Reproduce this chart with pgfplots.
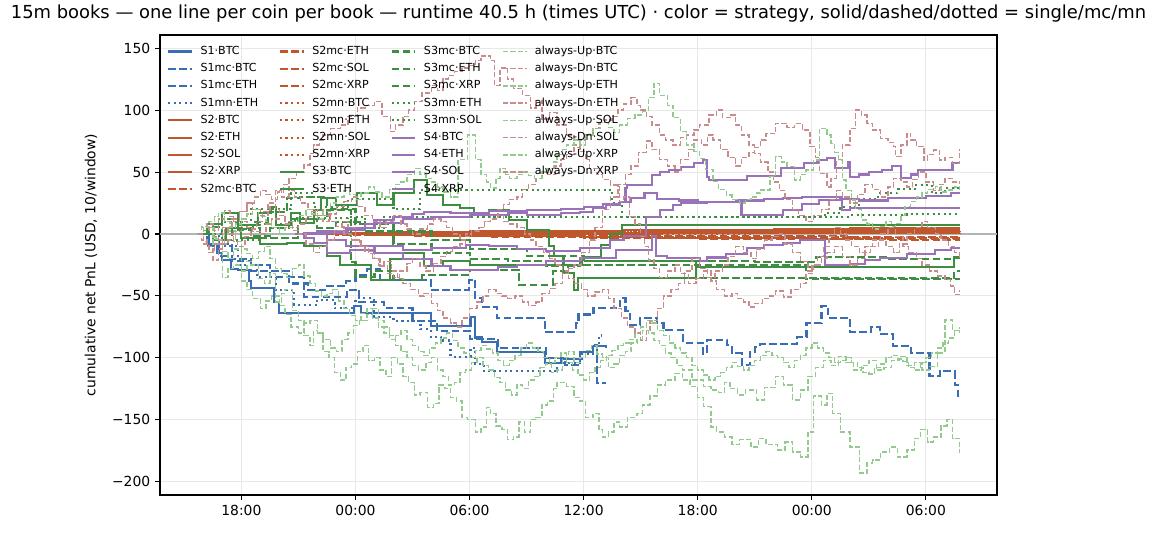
\documentclass[border=0pt]{standalone}
\usepackage{fontspec}
\setmainfont{DejaVu Sans}
\usepackage{pgfplots}
\pgfplotsset{compat=1.18}
\definecolor{cS1}{HTML}{3A6EB4}
\definecolor{cS2}{HTML}{C0562C}
\definecolor{cS3}{HTML}{3E8E41}
\definecolor{cS4}{HTML}{9A72BA}
\definecolor{cUp}{HTML}{93CB8F}
\definecolor{cDn}{HTML}{C98C8C}
\definecolor{gridc}{HTML}{E8E8E8}
\definecolor{zeroc}{HTML}{B4B4B4}
\tikzset{
  s1/.style={color=cS1, line width=1.5pt},
  s2/.style={color=cS2, line width=1.5pt},
  s3/.style={color=cS3, line width=1.5pt},
  s4/.style={color=cS4, line width=1.5pt},
  dsh/.style={dash pattern=on 5.55pt off 2.4pt},
  dtt/.style={dash pattern=on 1.5pt off 2.475pt},
  aup/.style={color=cUp, line width=1pt, dash pattern=on 3.7pt off 1.6pt},
  adn/.style={color=cDn, line width=1pt, dash pattern=on 3.7pt off 1.6pt},
}
\begin{document}
\begin{tikzpicture}
\useasboundingbox (-115.2pt,-28.08pt) rectangle (716.4pt,356.4pt);
\begin{axis}[
  at={(0,0)}, anchor=south west,
  scale only axis, width=602.64pt, height=331.2pt,
  xmin=13.72, xmax=57.74, ymin=-210.8, ymax=160.7,
  xtick={18,24,30,36,42,48,54},
  xticklabels={18:00,00:00,06:00,12:00,18:00,00:00,06:00},
  ytick={-200,-150,-100,-50,0,50,100,150},
  yticklabels={−200,−150,−100,−50,0,50,100,150},
  tick align=outside, major tick length=3.5pt,
  tick style={black, line width=0.8pt},
  xtick pos=left, ytick pos=left,
  axis line style={line width=0.8pt},
  grid=major, grid style={color=gridc, line width=0.8pt},
  tick label style={font=\fontsize{10}{12}\selectfont},
  title={15m books — one line per coin per book — runtime 40.5 h (times UTC) · color = strategy, solid/dashed/dotted = single/mc/mn},
  title style={at={(0.5,1)}, anchor=base, yshift=6pt, font=\fontsize{12.9}{15}\selectfont},
  ylabel={cumulative net PnL (USD, 10/window)},
  ylabel style={at={(axis description cs:-0.0825,0.5)}, anchor=center, font=\fontsize{10}{12}\selectfont},
  every axis plot/.append style={const plot mark left, mark=none},
  legend image code/.code={\draw[#1] (0pt,0pt) -- (17pt,0pt);},
  legend columns=4, legend cell align=left,
  legend style={draw=none, fill=none, at={(0,1)}, anchor=north west, xshift=5pt, yshift=-7.5pt,
    inner sep=0pt, row sep=4pt, font=\fontsize{8}{9.6}\selectfont,
    nodes={inner xsep=2.5pt, inner ysep=0.5pt, text height=5.8pt, text depth=1.6pt},
    /tikz/every odd column/.append style={column sep=3pt},
    /tikz/every even column/.append style={column sep=12.4pt}},
]
% zero line
\addplot[forget plot, color=zeroc, line width=0.8pt] coordinates {(13.72,0) (57.74,0)};

% ---------- S1 ----------
\addplot[forget plot, s1] coordinates {(15.7,0) (16.3,-8) (16.7,-15) (17.0,-21) (17.45,-28) (17.8,-29) (18.41,-38) (18.5,-44) (19.72,-54.7) (19.99,-64) (23.92,-58) (24.3,-64) (27.95,-74) (30.05,-66.7) (30.3,-83.6) (30.66,-87.5) (31.45,-95) (33.98,-104.5) (34.8,-101) (35.8,-95) (36.5,-90.5) (37.2,-92)};
\addplot[forget plot, s1, dsh] coordinates {(15.7,0) (16.5,-8) (17.5,-20) (18.5,-30) (19.5,-35) (20.5,-40) (21.5,-45) (22.5,-42) (23.5,-38) (24.0,-33) (24.6,-28) (25.3,-37) (27.95,-45.2) (29.96,-37) (30.3,-52) (30.66,-58.7) (31.45,-68) (33.98,-79) (35.6,-72) (35.73,-65) (36.52,-59.5) (37.92,-52) (38.2,-62) (38.45,-73.5) (38.97,-68) (39.85,-72) (40.2,-77.5) (41.24,-88) (42.3,-97) (42.47,-85.6) (43.52,-90) (43.78,-96.4) (44.31,-105.8) (44.75,-95) (45.0,-91) (45.27,-89) (47.2,-83) (47.72,-72) (48.51,-58) (48.86,-67.6) (50.0,-79) (51.13,-75) (51.57,-80.8) (52.27,-90.5) (53.23,-96.4) (54.19,-115) (54.72,-111) (55.51,-122) (55.7,-131) (55.77,-131)};
\addplot[forget plot, s1, dsh] coordinates {(15.7,0) (16.2,-10) (16.8,-18) (17.5,-22) (18.5,-25) (19.5,-30) (20.5,-35) (21.3,-50.6) (23.57,-45) (24.2,-55) (25.5,-60) (27.0,-70) (28.3,-78) (30.0,-85) (31.5,-92) (34.0,-100) (35.0,-106) (35.8,-95) (36.5,-90) (36.7,-120.6) (37.2,-120.6)};
\addplot[forget plot, s1, dtt] coordinates {(15.7,0) (16.8,-10) (17.8,-25) (18.8,-35) (19.8,-45) (20.77,-57) (22.0,-53) (22.9,-60) (24.0,-52) (24.97,-67) (26.0,-70) (27.42,-77) (27.95,-83) (28.5,-86) (29.0,-99) (30.05,-92) (30.3,-105) (30.75,-111) (34.6,-104.5) (35.9,-97) (36.5,-90) (36.8,-82) (36.96,-82)};

% ---------- S2 ----------
\addplot[forget plot, s2] coordinates {(21.0,0) (23,0.5) (25,1) (28,1.5) (30,2) (34,2.5) (38,3) (42,3.5) (46,4) (50,4.5) (53,5) (55.77,5)};
\addplot[forget plot, s2] coordinates {(22,0) (25,-0.5) (28,-1) (32,-0.5) (35,0) (40,1) (45,1.5) (50,2) (53,2.5) (55.77,2.5)};
\addplot[forget plot, s2] coordinates {(21.5,0) (24,1) (26,1.5) (30,1.2) (34,1) (39,1.5) (44,2) (49,3) (52,3.5) (55.77,3.5)};
\addplot[forget plot, s2] coordinates {(23,0) (27,-0.3) (30,-0.5) (35,0) (40,0.5) (47,0.8) (55.77,1)};
\addplot[forget plot, s2, dsh] coordinates {(21,0) (23,-0.5) (25,-1) (28,-1.5) (32,-2) (36,-2.5) (40,-3) (44,-3.5) (48,-4) (52,-4.5) (54,-5) (55.77,-5)};
\addplot[forget plot, s2, dsh] coordinates {(22,0) (24.5,-1) (27,-2) (31,-2.8) (36,-3.5) (42,-3.8) (48,-4) (55.77,-4)};
\addplot[forget plot, s2, dsh] coordinates {(22.5,0) (25,-0.8) (28,-1.5) (33,-2) (38,-2.5) (44,-2.8) (50,-3) (53,-3.5) (55.77,-3.5)};
\addplot[forget plot, s2, dsh] coordinates {(23.5,0) (27,-0.5) (30,-1) (37,-1.5) (45,-2) (50,-2.3) (55.77,-2.5)};
\addplot[forget plot, s2, dtt] coordinates {(21,0) (23.5,0.5) (26,1) (30,1.5) (34,2) (39,2.5) (44,3) (50,3.5) (53,4) (55.77,4)};
\addplot[forget plot, s2, dtt] coordinates {(22,0) (26,1) (30,1.5) (35,2) (40,2.5) (48,3) (55.77,3)};
\addplot[forget plot, s2, dtt] coordinates {(22.5,0) (28,0.5) (34,1) (40,1.5) (47,1.8) (55.77,2)};
\addplot[forget plot, s2, dtt] coordinates {(23,0) (30,-0.5) (38,0) (45,0.5) (50,0.8) (55.77,1)};

% ---------- S3 ----------
\addplot[forget plot, s3] coordinates {(15.7,0) (16.2,8) (17.0,16.7) (17.8,7.3) (18.85,16.7) (19.55,22) (19.8,7.3) (20.6,16.7) (21.1,8.6) (21.8,19.4) (22.2,28.8) (23.0,23.4) (24.1,32.9) (25.15,23.4) (26.0,32.9) (27.07,43.6) (27.77,31.5) (28.6,23.4) (29.5,20.7) (30.22,15.3) (31.0,19.4) (32.06,11.3) (33.0,3.2) (34.16,-10) (34.42,-18) (34.94,-25) (35.9,-19) (36.9,-9) (37.4,0) (38.0,7.5) (55.77,7.5)};
\addplot[forget plot, s3] coordinates {(15.7,0) (16.5,-5) (17.2,5) (18.0,-3) (19.0,-8) (20.4,-7.5) (21.3,-10) (22.5,-18) (23.2,-25) (24.8,-37) (25.8,-20) (26.5,-15) (27.6,-26) (28.6,-22) (30.0,-25) (34.9,-31.7) (35.5,-45) (35.7,-35.8) (41.9,-26.4) (55.5,-19.6) (55.77,-19.6)};
\addplot[forget plot, s3, dsh] coordinates {(15.7,0) (16.3,6) (17.0,12) (17.8,4) (18.6,10) (19.4,18) (20.4,28.8) (21.1,30) (22.5,19.4) (23.75,-23) (24.0,-34.5) (25.0,-30) (26.0,-37) (27.5,-33) (30.0,-29) (32.6,-41) (34.4,-30) (35.2,-26) (35.8,-22) (41.9,-35.8) (55.5,-30) (55.77,-30)};
\addplot[forget plot, s3, dsh] coordinates {(15.7,0) (16.5,-5) (17.5,3) (18.5,-2) (19.5,5) (20.5,12) (22,5) (23,10) (24.5,2) (26,-8) (28,-15) (30,-20) (32,-22) (34,-26) (34.8,-25) (47.7,-36.6) (55.77,-36.6)};
\addplot[forget plot, s3, dsh] coordinates {(15.7,0) (17,5) (19,-3) (21,12) (22.5,20) (24,8) (26,2) (28,-5) (30,-12) (33,-18) (36,-22) (45,-22.4) (48.2,-18.3) (52,-20) (55.5,-18.5) (55.77,-18.5)};
\addplot[forget plot, s3, dtt] coordinates {(15.7,0) (17,10) (18.5,20) (20.6,33) (21.8,22) (23.6,28) (26,20) (27.4,35.5) (37.5,25) (38.0,14) (48.7,17) (49.5,22) (50.5,28) (51.5,33) (52.5,36) (53.5,39.6) (54.3,33) (55.0,37) (55.77,37)};
\addplot[forget plot, s3, dtt] coordinates {(15.7,0) (17,-5) (19,8) (20.8,13) (23.6,14) (24.5,5) (25.5,14) (50,15) (53,16) (55.77,16)};

% ---------- S4 ----------
\addplot[forget plot, s4] coordinates {(20.8,0) (21.3,0.5) (23.6,3) (24.5,8) (25,11) (26,14) (27,16) (27.6,18) (29,17) (31,18.5) (33,19.4) (34.8,20) (36,22) (37,24) (37.9,26) (38.2,37) (38.3,39.6) (39.6,47.7) (40,50.3) (40.5,52) (41.1,54.4) (41.8,57) (42.3,59.8) (42.5,46.3) (42.6,43.6) (44.6,47) (46.4,53) (47.6,57) (48.3,59.8) (48.8,61) (49.2,53) (49.9,58) (50.0,46.3) (50.5,48) (51,50) (51.7,52) (52.2,55) (52.7,45) (53.2,48) (53.6,52) (55.4,57) (55.77,57)};
\addplot[forget plot, s4] coordinates {(21.0,0) (22,2) (23.5,5) (25,9) (26.5,12) (28,14) (30,15) (32,16.7) (33,15.3) (34.8,16.7) (35.8,18) (36.5,20.7) (37.2,23.4) (37.9,26) (38.5,29) (39.2,32.9) (39.85,28) (41,27) (42,26) (44,27) (45.5,28) (46.5,29) (47.5,30) (49.6,19.4) (50,20.7) (55.77,20.7)};
\addplot[forget plot, s4] coordinates {(20.8,0) (21.3,-3) (21.8,-7.5) (22.5,-15.6) (23.7,-13) (25,-10) (26.5,-13) (28,-11) (29.8,-9) (31,-10) (32.5,-12) (34,-14) (35.8,-11.6) (37.4,-4.8) (38.1,-2) (39.3,14) (40.0,19.4) (40.7,23.4) (41.1,24.8) (42.5,26) (44.3,15.3) (46.5,19.4) (47.5,24) (48.4,27.5) (49.5,28) (50.5,27) (52,29) (54,31) (55.3,33) (55.77,33)};
\addplot[forget plot, s4] coordinates {(21.5,0) (22.5,-5) (23.5,-10) (25,-15) (26.5,-20) (28,-26) (29,-29) (31.5,-27) (32.5,-25) (34,-22) (35.8,-19.6) (37.7,-13) (39.6,-2) (39.8,-18) (40.4,-19.6) (42.1,-22) (42.5,-19) (43.5,-16) (44.6,-11.6) (45.5,-9) (46.5,-7) (47.4,-5) (48.7,-25) (50,-24) (50.8,-21) (51.6,-19.6) (53,-16) (54.5,-13) (55.3,-11.6) (55.77,-11.6)};

% ---------- always-Up / always-Dn ----------
% Up BTC
\addplot[forget plot, aup] coordinates {(15.7,0) (16.0,-6) (16.2,-10) (16.5,-3) (16.7,-5) (17.0,-14) (17.3,-20) (17.6,-12) (18.0,-30) (18.3,-22) (18.5,-25) (18.9,-36) (19.2,-40) (19.5,-32) (19.8,-55) (20.1,-48) (20.3,-45) (20.7,-62) (21.0,-70) (21.3,-82) (21.6,-90) (21.8,-78) (22.0,-80) (22.3,-95) (22.6,-100) (22.9,-112) (23.2,-118) (23.5,-108) (23.8,-105) (24.1,-95) (24.4,-90) (24.7,-102) (25.0,-100) (25.3,-110) (25.6,-115) (25.9,-100) (26.2,-105) (26.5,-115) (26.8,-120) (27.1,-130) (27.4,-128) (27.8,-140) (28.1,-137) (28.4,-122) (28.7,-125) (29.0,-132) (29.3,-135) (29.6,-148) (29.9,-150) (30.3,-160) (30.6,-156) (30.9,-140) (31.1,-145) (31.4,-155) (31.7,-158) (32.0,-166) (32.3,-164) (32.6,-152) (32.9,-160) (33.2,-150) (33.5,-148) (33.8,-138) (34.1,-135) (34.4,-125) (34.6,-120) (35.1,-123) (35.5,-132) (35.8,-135) (36.1,-148) (36.5,-145) (36.8,-158) (37.0,-164) (37.3,-160) (37.6,-152) (37.9,-156) (38.3,-148) (38.8,-145) (39.1,-138) (39.5,-131) (39.9,-122) (40.3,-118) (40.8,-112.5) (41.2,-118) (41.6,-123) (42.0,-132) (42.3,-139.5) (42.7,-156) (43.0,-160) (43.4,-164) (43.8,-170) (44.2,-166) (44.8,-172) (45.2,-165) (45.6,-170) (46.2,-174.5) (46.6,-168) (47.0,-176) (47.4,-180) (47.8,-160) (48.1,-131) (48.5,-138) (48.8,-128.7) (49.1,-145) (49.5,-160) (50.0,-172) (50.5,-193) (50.9,-185) (51.2,-182.6) (51.6,-176) (52.1,-172) (52.5,-180) (53.0,-174.5) (53.4,-165) (53.7,-158) (54.1,-168) (54.4,-164) (54.8,-155) (55.1,-150) (55.4,-165) (55.77,-177)};
% Dn BTC
\addplot[forget plot, adn] coordinates {(15.7,0) (15.9,5) (16.2,8) (16.5,3) (16.8,12) (17.1,19) (17.4,14) (17.6,10) (17.9,18) (18.3,25) (18.6,20) (19.0,15) (19.4,25) (19.8,35) (20.1,30) (20.5,45) (20.9,50) (21.3,55.7) (21.6,65) (21.8,72) (22.1,76) (22.3,80) (22.7,85) (23.2,88) (23.6,95) (24.1,101.8) (24.5,104) (25.0,107) (25.4,95) (25.85,82.6) (26.1,88) (26.5,95) (26.8,100) (27.1,107) (27.5,114) (28.0,120) (28.3,116) (28.6,125) (28.9,128) (29.2,131) (29.6,134) (30.0,136) (30.3,140) (30.6,143.8) (31.1,140) (31.3,120) (31.6,134) (32.0,125) (32.3,117.6) (32.8,112) (33.2,101.6) (33.5,108) (33.8,93) (34.2,98) (34.6,88) (35.1,80) (35.5,72) (35.8,66.5) (36.1,60) (36.3,53) (36.7,48) (37.0,44) (37.4,39.6) (37.9,26) (38.1,30) (38.4,14) (38.7,8) (39.0,-2) (39.2,-10) (39.4,-21) (39.7,-28) (40.0,-35) (40.4,-30) (40.8,-25) (41.1,-32) (41.5,-40) (41.9,-36) (42.3,-30) (42.7,-38) (43.0,-45) (43.4,-50) (43.8,-48) (44.1,-52) (44.4,-55) (44.7,-59) (45.0,-56) (45.4,-52) (45.8,-50) (46.1,-46) (46.5,-51) (46.9,-45) (47.4,-40) (47.7,-32) (48.0,-25) (48.3,-18) (48.6,-10) (48.9,-2) (49.2,5) (49.5,0) (49.8,-5) (50.1,-10) (50.5,-15) (50.8,-10) (51.2,-5) (51.6,0) (52.0,5) (52.4,-2) (52.8,-10) (53.1,-15) (53.5,-20) (53.8,-25) (54.2,-30) (54.6,-34) (55.0,-37) (55.3,-42) (55.5,-49) (55.77,-45)};
% Up ETH
\addplot[forget plot, aup] coordinates {(15.7,0) (16.0,-8) (16.3,-15) (16.6,-8) (17.0,-35) (17.3,-28) (17.6,-25) (18.0,-38) (18.3,-45) (18.6,-52) (19.0,-60) (19.3,-54) (19.6,-50) (20.0,-58) (20.3,-65) (20.6,-75) (21.0,-80) (21.3,-72) (21.6,-70) (22.0,-80) (22.3,-85) (22.7,-92) (23.0,-95) (23.3,-85) (23.6,-80) (23.9,-74) (24.2,-70) (24.6,-65) (24.9,-60) (25.2,-70) (25.5,-75) (25.8,-82) (26.1,-90) (26.4,-95) (26.7,-100) (27.0,-106) (27.3,-110) (27.7,-104) (28.0,-100) (28.3,-110) (28.6,-115) (28.9,-122) (29.2,-120) (29.5,-112) (29.8,-110) (30.1,-104) (30.4,-100) (30.7,-106) (31.0,-110) (31.3,-116) (31.6,-120) (31.9,-126) (32.2,-130) (32.5,-122) (32.8,-125) (33.1,-118) (33.4,-115) (33.7,-108) (34.0,-105) (34.3,-112) (34.6,-110) (34.9,-100) (35.2,-95) (35.5,-104) (35.8,-100) (36.1,-94) (36.4,-90) (36.7,-97) (37.0,-100) (37.3,-108) (37.6,-105) (37.9,-98) (38.2,-95) (38.5,-88) (38.8,-85) (39.1,-78) (39.4,-80) (39.7,-86) (40.0,-90) (40.3,-96) (40.6,-100) (40.9,-106) (41.2,-110) (41.7,-118) (42.3,-123) (42.7,-126) (43.1,-128) (43.4,-120) (43.7,-125) (44.1,-130) (44.5,-126) (45.1,-134) (45.5,-124) (46.1,-115) (46.5,-122) (47.0,-134) (47.4,-126) (47.8,-115) (48.2,-108) (48.6,-102) (49.0,-106) (49.4,-99) (49.8,-104) (50.2,-110) (50.6,-106) (51.0,-102) (51.4,-110) (51.8,-108) (52.2,-102) (52.6,-99) (53.0,-106) (53.4,-104) (53.8,-110) (54.2,-107) (54.6,-96) (55.0,-69.5) (55.4,-78) (55.77,-75)};
% Dn ETH
\addplot[forget plot, adn] coordinates {(15.7,0) (15.9,-5) (16.2,-10) (16.5,-21) (16.8,-12) (17.0,-8) (17.3,-5) (17.6,2) (18.0,10) (18.3,5) (18.6,2) (19.0,0) (19.3,8) (19.6,12) (20.0,15) (20.3,10) (20.7,5) (21.0,8) (21.4,14) (21.7,18) (22.0,20) (22.3,15) (22.7,10) (23.0,6) (23.4,0) (23.8,-5) (24.2,-10) (24.5,-14) (24.9,-20) (25.2,-25) (25.5,-22) (25.9,-30) (26.2,-36) (26.5,-40) (26.9,-45) (27.3,-50) (27.6,-48) (28.0,-56) (28.3,-62) (28.6,-68) (29.0,-72) (29.3,-75) (29.6,-68) (30.0,-60) (30.4,-55) (30.7,-50) (31.0,-45) (31.4,-48) (31.7,-50) (32.0,-52) (32.4,-50) (32.8,-55) (33.1,-58) (33.5,-55) (33.8,-48) (34.2,-44) (34.5,-40) (34.9,-32) (35.2,-28) (35.5,-25) (35.9,-15) (36.3,-5) (36.6,5) (37.0,20) (37.4,30) (37.8,40) (38.2,48) (38.5,55) (38.9,66) (39.3,75) (39.6,68) (40.0,60) (40.4,55) (40.8,50) (41.1,60) (41.5,68) (41.8,76) (42.2,72) (42.5,80) (42.8,76) (43.2,68) (43.6,62) (44.0,55) (44.3,62) (44.7,66) (45.0,70) (45.3,76) (45.6,81) (46.1,89.4) (46.7,86) (47.1,89) (47.5,84) (47.9,70.5) (48.2,62) (48.4,49) (48.8,38) (49.0,45) (49.3,60) (49.6,72) (50.0,85) (50.3,100) (50.6,96) (50.9,89.4) (51.2,84) (51.6,77) (52.0,74) (52.3,70.5) (52.4,62.4) (52.7,72) (53.0,81.3) (53.2,76) (53.5,70.5) (53.9,59.8) (54.1,64) (54.4,67.9) (54.7,59.8) (55.0,62) (55.4,57) (55.77,69)};
% Up SOL
\addplot[forget plot, aup] coordinates {(15.7,0) (15.9,6) (16.2,5) (16.5,-4) (16.8,-8) (17.1,2) (17.4,3) (17.7,-6) (18.0,-12) (18.3,-16) (18.6,-20) (18.9,-14) (19.2,-10) (19.5,-20) (19.8,-28) (20.1,-32) (20.4,-35) (20.7,-28) (21.0,-25) (21.3,-34) (21.6,-40) (21.9,-46) (22.2,-50) (22.5,-48) (22.8,-45) (23.1,-54) (23.4,-60) (23.7,-66) (24.0,-70) (24.3,-64) (24.6,-60) (24.9,-68) (25.2,-75) (25.5,-80) (25.8,-85) (26.1,-82) (26.4,-78) (26.7,-85) (27.0,-90) (27.3,-95) (27.6,-98) (27.9,-92) (28.2,-88) (28.5,-84) (28.8,-80) (29.1,-86) (29.4,-92) (29.7,-96) (30.0,-100) (30.3,-94) (30.6,-90) (30.9,-93) (31.2,-96) (31.5,-102) (31.8,-106) (32.1,-102) (32.4,-98) (32.7,-92) (33.0,-88) (33.3,-92) (33.6,-95) (33.9,-100) (34.2,-104) (34.5,-100) (34.8,-96) (35.1,-104) (35.4,-110) (35.7,-114) (36.0,-118) (36.3,-112) (36.6,-108) (36.9,-102) (37.2,-98) (37.5,-94) (37.8,-90) (38.1,-88) (38.4,-85) (38.7,-80) (39.0,-75) (39.3,-70) (39.6,-72) (39.9,-78) (40.2,-82) (40.5,-88) (40.8,-92) (41.1,-96) (41.4,-100) (41.7,-106) (42.0,-110) (42.3,-114) (42.6,-118) (42.9,-115) (43.2,-112) (43.5,-108) (43.8,-104) (44.1,-107) (44.4,-110) (44.7,-106) (45.0,-102) (45.3,-98) (45.6,-95) (45.9,-98) (46.2,-100) (46.5,-104) (46.8,-108) (47.1,-102) (47.4,-98) (47.7,-92) (48.0,-88) (48.3,-92) (48.6,-96) (48.9,-100) (49.2,-104) (49.5,-102) (49.8,-100) (50.1,-104) (50.4,-108) (50.7,-112) (51.0,-113) (51.3,-108) (51.6,-105) (51.9,-100) (52.2,-98) (52.5,-101) (52.8,-103) (53.1,-108) (53.4,-110) (53.7,-104) (54.0,-100) (54.3,-96) (54.6,-92) (54.9,-88) (55.2,-84) (55.5,-78) (55.77,-80)};
% Dn SOL
\addplot[forget plot, adn] coordinates {(15.7,0) (16.0,3) (16.3,5) (16.6,-2) (16.8,-8) (17.1,5) (17.5,12) (17.9,18) (18.3,25) (18.7,30) (19.0,35) (19.3,32) (19.6,28) (19.9,34) (20.2,40) (20.5,35) (20.8,30) (21.1,25) (21.5,20) (21.9,15) (22.3,10) (22.6,16) (23.0,22) (23.4,26) (23.8,30) (24.1,22) (24.5,15) (24.9,10) (25.3,5) (25.6,10) (26.0,15) (26.4,8) (26.7,4) (27.0,0) (27.4,4) (27.8,8) (28.1,12) (28.5,10) (28.8,5) (29.1,0) (29.5,-5) (29.8,0) (30.1,3) (30.5,5) (30.8,10) (31.1,15) (31.5,20) (31.8,24) (32.1,28) (32.5,30) (32.8,36) (33.1,40) (33.5,45) (33.8,50) (34.1,48) (34.5,55) (34.8,60) (35.1,64) (35.5,70) (35.8,76) (36.1,80) (36.5,85) (36.8,90) (37.1,92) (37.5,95) (37.8,100) (38.1,105) (38.5,110) (38.8,104) (39.0,100) (39.3,95) (39.6,88) (40.0,80) (40.3,76) (40.7,72) (41.1,78) (41.4,80) (41.8,84) (42.1,88) (42.6,96) (43.0,100) (43.3,94) (43.7,96) (44.0,88) (44.3,80) (44.7,72) (45.0,65) (45.3,58) (45.7,50) (46.0,42) (46.3,35) (46.6,28) (47.0,20) (47.3,15) (47.7,10) (48.1,15) (48.5,20) (48.9,28) (49.3,35) (49.6,30) (50.0,25) (50.4,32) (50.8,40) (51.2,36) (51.6,30) (52.0,38) (52.3,45) (52.7,42) (53.0,38) (53.3,44) (53.6,50) (54.0,42) (54.4,35) (54.7,40) (55.0,45) (55.4,42) (55.77,40)};
% Up XRP
\addplot[forget plot, aup] coordinates {(15.7,0) (16.0,6) (16.3,10) (16.6,14) (16.8,17) (17.1,10) (17.4,5) (17.7,8) (18.0,12) (18.3,16) (18.6,20) (18.9,14) (19.3,10) (19.6,5) (20.0,0) (20.3,5) (20.7,10) (21.0,15) (21.4,20) (21.7,16) (22.0,12) (22.3,18) (22.7,25) (23.0,30) (23.4,35) (23.7,32) (24.0,28) (24.3,33) (24.7,38) (25.0,34) (25.4,30) (25.8,36) (26.1,40) (26.4,42) (26.7,48) (27.1,53) (27.4,48) (27.7,45) (28.0,42) (28.3,38) (28.6,34) (29.0,30) (29.4,60) (29.9,80) (30.3,60) (30.6,48) (30.9,42) (31.1,37) (31.4,45) (31.6,53) (31.9,48) (32.1,45) (32.5,48) (32.8,50) (33.1,47) (33.4,45) (33.8,50) (34.1,53) (34.4,58) (34.6,64) (34.9,68) (35.1,72) (35.5,76) (35.8,72) (36.1,80) (36.5,85.4) (36.9,90) (37.3,86) (37.6,82) (37.9,88) (38.3,93.5) (38.7,96) (39.1,98.8) (39.4,110) (39.7,121.7) (40.0,112) (40.4,104) (40.7,94) (41.1,82.6) (41.4,72) (41.8,66.5) (42.1,61) (42.4,52) (42.8,42.3) (43.1,36) (43.5,31.5) (43.8,28) (44.2,25) (44.5,28) (44.8,30) (45.1,33) (45.3,35.5) (45.8,46.3) (46.1,62.4) (46.4,58) (46.7,54.4) (47.1,43.6) (47.4,48) (47.7,51.7) (48.1,59.8) (48.4,85.4) (48.8,80) (49.0,73.3) (49.2,66) (49.4,59.8) (49.6,43.6) (49.8,35) (50.1,27.5) (50.3,20) (50.6,11.3) (50.9,8) (51.2,4) (51.5,5.9) (51.9,10) (52.2,6) (52.4,8.6) (52.7,15) (52.9,22) (53.2,26) (53.5,30) (53.8,33) (54.1,36) (54.5,38.2) (54.8,34) (55.2,35.5) (55.5,38) (55.77,35.5)};
% Dn XRP
\addplot[forget plot, adn] coordinates {(15.7,0) (16.0,-8) (16.3,-15) (16.6,-8) (17.0,5) (17.3,0) (17.6,-6) (17.8,-10) (18.2,-2) (18.5,4) (18.8,10) (19.1,18) (19.5,25) (19.8,20) (20.0,15) (20.3,8) (20.7,3) (21.0,0) (21.4,-8) (21.8,-15) (22.1,-10) (22.5,-5) (22.9,3) (23.3,10) (23.6,5) (24.0,-5) (24.3,-10) (24.7,-16) (25.0,-20) (25.3,-26) (25.7,-32) (26.0,-35) (26.3,-30) (26.7,-24) (27.0,-20) (27.4,-26) (27.7,-30) (28.1,-24) (28.5,-18) (28.8,-14) (29.1,-10) (29.5,-8) (29.8,-2) (30.1,2) (30.5,5) (30.8,10) (31.1,12) (31.5,15) (31.8,10) (32.1,8) (32.5,5) (32.9,0) (33.2,-5) (33.5,-10) (33.9,-15) (34.2,-20) (34.5,-25) (34.9,-30) (35.2,-36) (35.5,-40) (35.9,-45) (36.2,-50) (36.6,-47) (37.0,-45) (37.3,-52) (37.6,-60) (38.0,-68) (38.3,-75) (38.7,-80) (39.0,-86) (39.3,-78) (39.5,-70) (39.9,-60) (40.2,-50) (40.6,-45) (41.0,-40) (41.3,-30) (41.7,-20) (42.1,-28) (42.5,-35) (42.9,-30) (43.3,-25) (43.6,-18) (44.0,-10) (44.4,-15) (44.8,-20) (45.1,-12) (45.5,-5) (45.9,-2) (46.3,0) (46.6,-8) (47.0,-15) (47.4,-22) (47.8,-30) (48.1,-25) (48.5,-20) (48.8,-15) (49.2,-10) (49.6,-18) (50.0,-25) (50.4,-20) (50.8,-15) (51.1,-10) (51.5,-5) (51.9,-10) (52.3,-15) (52.6,-8) (53.0,0) (53.4,5) (53.8,10) (54.1,5) (54.5,0) (54.8,-5) (55.2,-10) (55.5,-15) (55.77,-20)};

% ---------- legend (row-wise order of a column-filled 4-column legend) ----------
\addlegendimage{s1}\addlegendentry{S1·BTC}
\addlegendimage{s2,dsh}\addlegendentry{S2mc·ETH}
\addlegendimage{s3,dsh}\addlegendentry{S3mc·BTC}
\addlegendimage{aup}\addlegendentry{always-Up·BTC}
\addlegendimage{s1,dsh}\addlegendentry{S1mc·BTC}
\addlegendimage{s2,dsh}\addlegendentry{S2mc·SOL}
\addlegendimage{s3,dsh}\addlegendentry{S3mc·ETH}
\addlegendimage{adn}\addlegendentry{always-Dn·BTC}
\addlegendimage{s1,dsh}\addlegendentry{S1mc·ETH}
\addlegendimage{s2,dsh}\addlegendentry{S2mc·XRP}
\addlegendimage{s3,dsh}\addlegendentry{S3mc·XRP}
\addlegendimage{aup}\addlegendentry{always-Up·ETH}
\addlegendimage{s1,dtt}\addlegendentry{S1mn·ETH}
\addlegendimage{s2,dtt}\addlegendentry{S2mn·BTC}
\addlegendimage{s3,dtt}\addlegendentry{S3mn·ETH}
\addlegendimage{adn}\addlegendentry{always-Dn·ETH}
\addlegendimage{s2}\addlegendentry{S2·BTC}
\addlegendimage{s2,dtt}\addlegendentry{S2mn·ETH}
\addlegendimage{s3,dtt}\addlegendentry{S3mn·SOL}
\addlegendimage{aup}\addlegendentry{always-Up·SOL}
\addlegendimage{s2}\addlegendentry{S2·ETH}
\addlegendimage{s2,dtt}\addlegendentry{S2mn·SOL}
\addlegendimage{s4}\addlegendentry{S4·BTC}
\addlegendimage{adn}\addlegendentry{always-Dn·SOL}
\addlegendimage{s2}\addlegendentry{S2·SOL}
\addlegendimage{s2,dtt}\addlegendentry{S2mn·XRP}
\addlegendimage{s4}\addlegendentry{S4·ETH}
\addlegendimage{aup}\addlegendentry{always-Up·XRP}
\addlegendimage{s2}\addlegendentry{S2·XRP}
\addlegendimage{s3}\addlegendentry{S3·BTC}
\addlegendimage{s4}\addlegendentry{S4·SOL}
\addlegendimage{adn}\addlegendentry{always-Dn·XRP}
\addlegendimage{s2,dsh}\addlegendentry{S2mc·BTC}
\addlegendimage{s3}\addlegendentry{S3·ETH}
\addlegendimage{s4}\addlegendentry{S4·XRP}
\end{axis}
\end{tikzpicture}
\end{document}
